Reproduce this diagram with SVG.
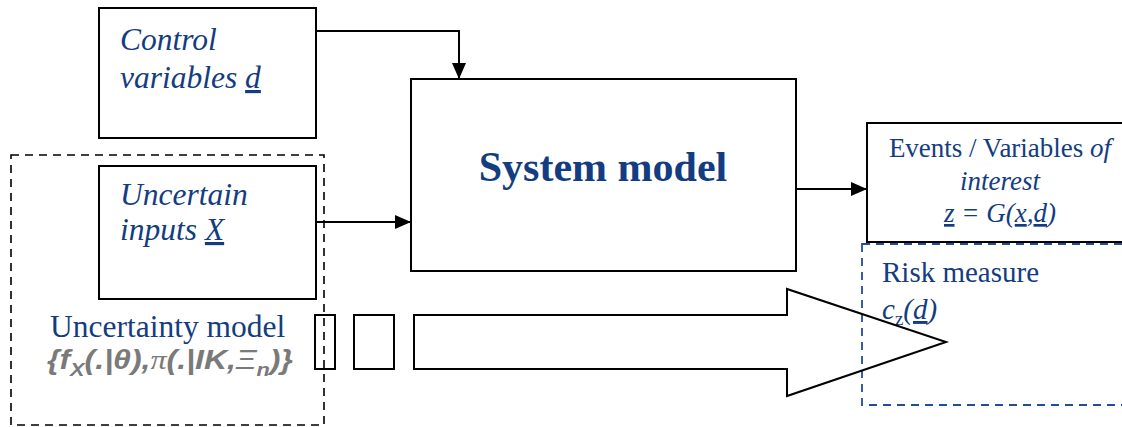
<svg xmlns="http://www.w3.org/2000/svg" width="1122" height="427" viewBox="0 0 1122 427">
  <style>
    .box { fill: #ffffff; stroke: #000000; stroke-width: 2; }
    .wire { fill: none; stroke: #000000; stroke-width: 2; }
    .blue { fill: #133d80; font-family: "Liberation Serif", "Times New Roman", serif; }
    .it { font-style: italic; }
    .ul { text-decoration: underline; }
  </style>
  <defs>
    <marker id="head" viewBox="0 0 16 14" refX="16" refY="7" markerWidth="16" markerHeight="14" markerUnits="userSpaceOnUse" orient="auto">
      <path d="M0,0 L16,7 L0,14 Z" fill="#000000"/>
    </marker>
  </defs>

  <!-- uncertainty model frame -->
  <g id="uncertainty-model">
    <rect x="11" y="155" width="313" height="270" fill="none" stroke="#000000" stroke-width="1.6" stroke-dasharray="8,6"/>
    <text class="blue" x="50" y="337" font-size="31.5">Uncertainty model</text>
    <text x="47" y="369" font-family="'Liberation Sans', Arial, sans-serif" font-size="28" font-weight="bold" font-style="italic" fill="#7a7a7a" textLength="246" lengthAdjust="spacingAndGlyphs">{f<tspan font-size="19" dy="7">X</tspan><tspan dy="-7">(.|θ),</tspan><tspan font-family="'Liberation Serif', serif" font-weight="normal">π</tspan>(.|IK,<tspan font-weight="normal">Ξ</tspan><tspan font-size="19" dy="7">n</tspan><tspan dy="-7">)}</tspan></text>
  </g>

  <!-- control variables -->
  <g id="control-variables">
    <rect class="box" x="99" y="8" width="217" height="130"/>
    <text class="blue it" x="120" y="50" font-size="31.5">Control</text>
    <text class="blue it" x="120" y="88" font-size="31.5">variables <tspan class="ul">d</tspan></text>
  </g>

  <!-- uncertain inputs -->
  <g id="uncertain-inputs">
    <rect class="box" x="99" y="166" width="217" height="133"/>
    <text class="blue it" x="120" y="205" font-size="31.5">Uncertain</text>
    <text class="blue it" x="120" y="240" font-size="31.5">inputs <tspan class="ul">X</tspan></text>
  </g>

  <!-- system model -->
  <g id="system-model">
    <rect class="box" x="411" y="79" width="385" height="192"/>
    <text class="blue" x="603" y="181" font-size="42" font-weight="bold" text-anchor="middle">System model</text>
  </g>

  <!-- events / variables of interest -->
  <g id="events">
    <rect class="box" x="867" y="123" width="270" height="119"/>
    <text class="blue" x="1000" y="157" font-size="27" text-anchor="middle">Events / Variables <tspan class="it">of</tspan></text>
    <text class="blue it" x="1000" y="190" font-size="27" text-anchor="middle">interest</text>
    <text class="blue it" x="1000" y="222" font-size="27" text-anchor="middle"><tspan class="ul">z</tspan> = G(<tspan class="ul">x</tspan>,<tspan class="ul">d</tspan>)</text>
  </g>

  <!-- risk measure -->
  <g id="risk-measure">
    <rect x="862" y="244" width="270" height="161" fill="none" stroke="#1f4f99" stroke-width="1.8" stroke-dasharray="8,6"/>
    <text class="blue" x="882" y="282" font-size="29">Risk measure</text>
    <text class="blue it" x="882" y="319" font-size="29">c<tspan font-style="normal" font-size="19" dy="6">z</tspan><tspan dy="-6">(</tspan><tspan class="ul">d</tspan>)</text>
  </g>

  <!-- propagation arrow -->
  <g id="propagation">
    <rect x="315" y="315" width="20" height="54" fill="none" stroke="#000000" stroke-width="2"/>
    <rect x="354" y="315" width="40" height="54" fill="none" stroke="#000000" stroke-width="2"/>
    <path d="M414,315 L787,315 L787,289 L946,342 L787,396 L787,369 L414,369 Z" fill="none" stroke="#000000" stroke-width="2" stroke-linejoin="miter"/>
  </g>

  <!-- connectors -->
  <g id="connectors">
    <path class="wire" d="M316,31 L459,31 L459,79" marker-end="url(#head)"/>
    <path class="wire" d="M316,222 L411,222" marker-end="url(#head)"/>
    <path class="wire" d="M796,189 L867,189" marker-end="url(#head)"/>
  </g>
</svg>
